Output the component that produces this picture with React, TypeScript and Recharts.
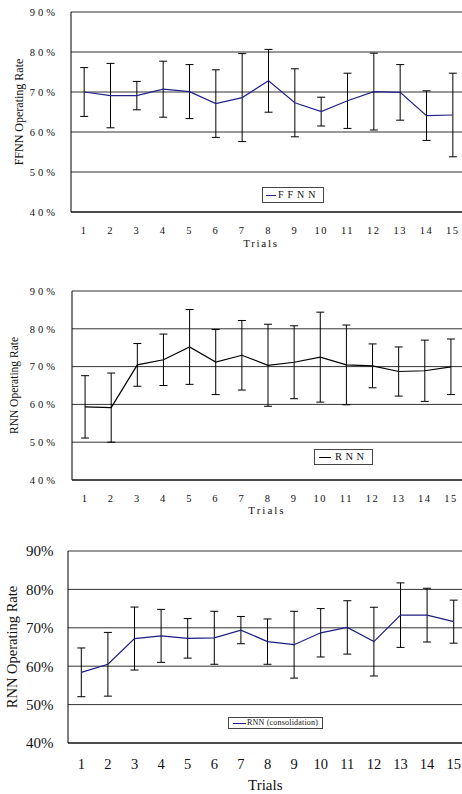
import { CartesianGrid, ErrorBar, Legend, Line, LineChart, XAxis, YAxis } from "recharts";

const trials = [1, 2, 3, 4, 5, 6, 7, 8, 9, 10, 11, 12, 13, 14, 15];
const yTicks = [40, 50, 60, 70, 80, 90];

// FFNN
const ffnnRate = [70.0, 69.1, 69.1, 70.7, 70.1, 67.1, 68.6, 72.8, 67.3, 65.1, 67.8, 70.1, 69.9, 64.1, 64.25];
const ffnnErr = [6.1, 8.05, 3.55, 7.0, 6.75, 8.45, 11.0, 7.85, 8.5, 3.6, 6.9, 9.6, 6.95, 6.2, 10.45];

// RNN
const rnnRate = [59.35, 59.15, 70.45, 71.8, 75.2, 71.2, 73.0, 70.35, 71.15, 72.5, 70.45, 70.2, 68.7, 68.9, 69.95];
const rnnErr = [8.25, 9.15, 5.65, 6.8, 9.9, 8.6, 9.2, 10.85, 9.65, 11.9, 10.55, 5.8, 6.5, 8.1, 7.35];

// RNN (consolidation)
const consRate = [58.4, 60.5, 67.2, 67.9, 67.25, 67.4, 69.4, 66.4, 65.6, 68.7, 70.1, 66.4, 73.3, 73.3, 71.6];
const consErr = [6.35, 8.3, 8.2, 6.9, 5.15, 6.9, 3.55, 5.9, 8.7, 6.3, 6.95, 8.95, 8.4, 7.0, 5.6];

const SERIF = "'Liberation Serif', 'Times New Roman', serif";
const bounds = trials.slice(1).map((t) => t - 0.5);

const panels = [
  {
    top: 0, width: 466, height: 252, mTop: 12, yWidth: 71, xHeight: 40,
    yFont: 10.5, yLs: 3, yMargin: 13,
    xFont: 10.5, xLs: 1.5, xMargin: 14.5,
    tFont: 11, tLs: 1.7, tOffset: 5.5, tDx: -7.6,
    title: "FFNN Operating Rate", titleFont: 12, titleX: 19.2,
    legend: { left: 262, top: 187, w: 62, h: 16, pad: 3, lineW: 10, gap: 2, fs: 10, ls: 4 },
  },
  {
    top: 260, width: 464, height: 260, mTop: 31, yWidth: 72, xHeight: 40,
    yFont: 10.5, yLs: 3, yMargin: 14,
    xFont: 10.5, xLs: 1.5, xMargin: 14.3,
    tFont: 11, tLs: 2, tOffset: 6, tDx: -1,
    title: "RNN Operating Rate", titleFont: 11.5, titleX: 14.2,
    legend: { left: 314, top: 189, w: 59, h: 16, pad: 4, lineW: 12, gap: 4, fs: 10.5, ls: 3.5 },
  },
  {
    top: 520, width: 467, height: 274, mTop: 31, yWidth: 68, xHeight: 51,
    yFont: 15, yLs: 0, yMargin: 14.5,
    xFont: 14.5, xLs: 0, xMargin: 15.5,
    tFont: 15, tLs: 0, tOffset: 4, tDx: -2.2,
    title: "RNN Operating Rate", titleFont: 14.5, titleX: 12,
    legend: { left: 228, top: 197, w: 95, h: 12, pad: 4, lineW: 13, gap: 1, fs: 8, ls: 0.2 },
  },
];

const LegendBox = ({ label, color, box }: any) => (
  <div
    style={{
      boxSizing: "border-box",
      width: box.w,
      height: box.h,
      border: "1px solid #444",
      background: "#fff",
      display: "flex",
      alignItems: "center",
      paddingLeft: box.pad,
      fontFamily: SERIF,
      fontSize: box.fs,
      letterSpacing: box.ls,
      color: "#111",
      lineHeight: 1,
      whiteSpace: "nowrap",
    }}
  >
    <span
      style={{
        display: "inline-block",
        width: box.lineW,
        height: 0,
        borderTop: `1px solid ${color}`,
        marginRight: box.gap,
      }}
    />
    {label}
  </div>
);

const Panel = ({ cfg, rate, err, name, color }: any) => {
  const data = trials.map((t, i) => ({ trial: t, rate: rate[i], err: err[i] }));
  return (
    <div style={{ position: "absolute", left: 0, top: cfg.top }}>
      <LineChart
        width={cfg.width}
        height={cfg.height}
        data={data}
        margin={{ top: cfg.mTop, right: 0, bottom: 0, left: 0 }}
      >
        <CartesianGrid vertical={false} stroke="#333" />
        <XAxis
          dataKey="trial"
          type="number"
          domain={[0.5, 15.5]}
          allowDataOverflow
          ticks={trials}
          interval={0}
          height={cfg.xHeight}
          tickLine={false}
          tickSize={0}
          tickMargin={cfg.xMargin}
          axisLine={{ stroke: "#000" }}
          tick={{ fontSize: cfg.xFont, fill: "#111", fontFamily: SERIF, letterSpacing: cfg.xLs }}
          label={{
            value: "Trials",
            position: "insideBottom",
            offset: cfg.tOffset,
            dx: cfg.tDx,
            fontSize: cfg.tFont,
            fill: "#111",
            fontFamily: SERIF,
            letterSpacing: cfg.tLs,
          }}
        />
        <XAxis
          xAxisId="bounds"
          type="number"
          domain={[0.5, 15.5]}
          allowDataOverflow
          ticks={bounds}
          interval={0}
          mirror
          tick={false}
          tickSize={4}
          axisLine={false}
          tickLine={{ stroke: "#000" }}
        />
        <YAxis
          type="number"
          domain={[40, 90]}
          allowDataOverflow
          ticks={yTicks}
          interval={0}
          width={cfg.yWidth}
          tickLine={false}
          tickSize={0}
          tickMargin={cfg.yMargin}
          tickFormatter={(v: number) => `${v}%`}
          axisLine={{ stroke: "#000" }}
          tick={{ fontSize: cfg.yFont, fill: "#111", fontFamily: SERIF, letterSpacing: cfg.yLs }}
          label={{
            value: cfg.title,
            angle: -90,
            position: "insideLeft",
            offset: cfg.titleX,
            fontSize: cfg.titleFont,
            fill: "#111",
            fontFamily: SERIF,
            style: { textAnchor: "middle" },
          }}
        />
        <Legend
          layout="vertical"
          align="center"
          verticalAlign="middle"
          wrapperStyle={{ left: cfg.legend.left, top: cfg.legend.top, width: "auto" }}
          content={() => <LegendBox label={name} color={color} box={cfg.legend} />}
        />
        <Line
          dataKey="rate"
          name={name}
          stroke={color}
          strokeWidth={1.2}
          dot={false}
          activeDot={false}
          isAnimationActive={false}
        >
          <ErrorBar dataKey="err" width={4} stroke="#000" strokeWidth={1} direction="y" isAnimationActive={false} />
        </Line>
      </LineChart>
    </div>
  );
};

export default function App() {
  return (
    <div
      style={{
        position: "absolute",
        left: 0,
        top: 0,
        width: 462,
        height: 794,
        overflow: "hidden",
        background: "#fff",
      }}
    >
      <Panel cfg={panels[0]} rate={ffnnRate} err={ffnnErr} name="FFNN" color="#22228a" />
      <Panel cfg={panels[1]} rate={rnnRate} err={rnnErr} name="RNN" color="#000" />
      <Panel cfg={panels[2]} rate={consRate} err={consErr} name="RNN (consolidation)" color="#1c1c84" />
    </div>
  );
}
